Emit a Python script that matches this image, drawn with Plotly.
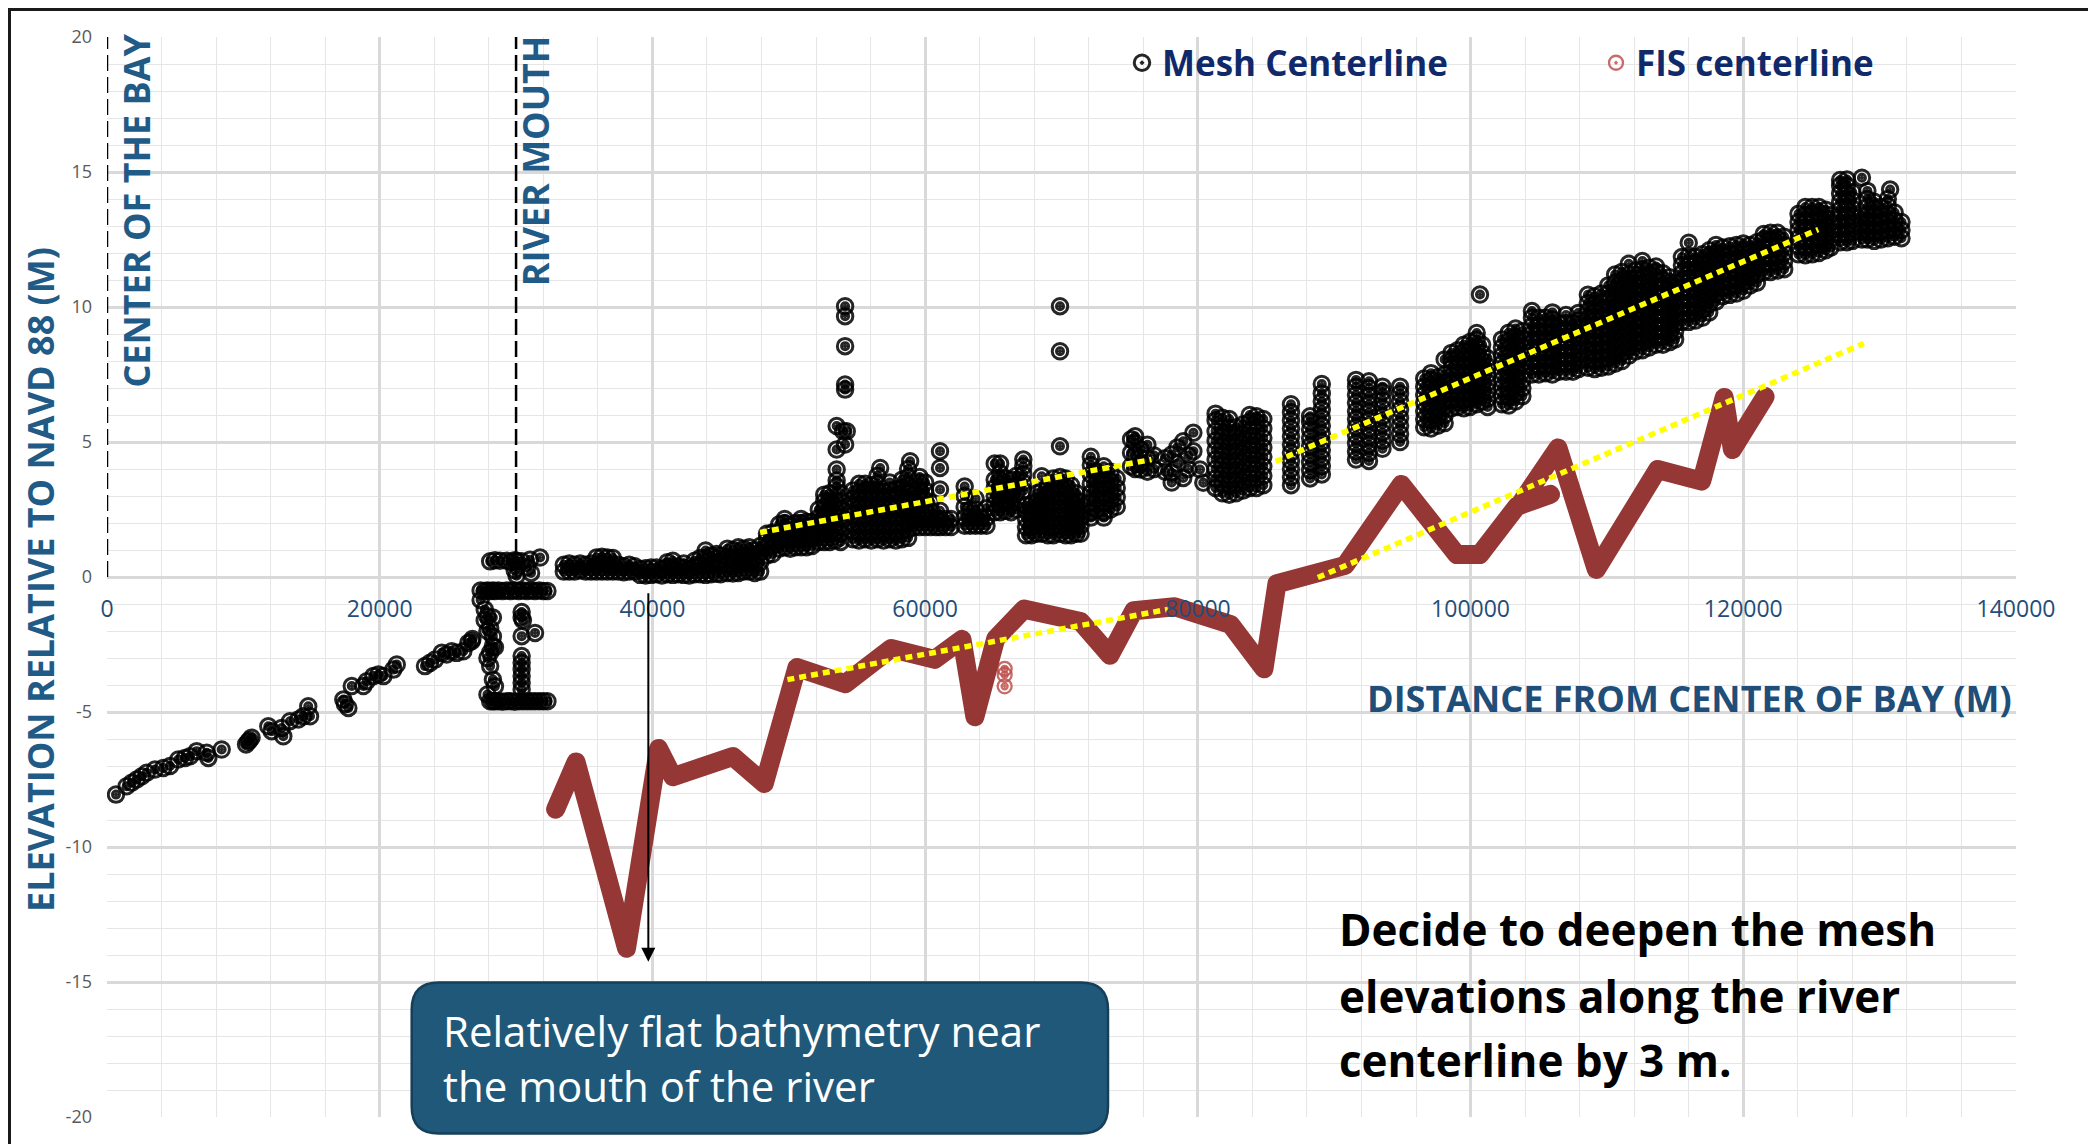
import plotly.graph_objects as go

# ---------------- data ----------------
x_tick_vals = [0, 20000, 40000, 60000, 80000, 100000, 120000, 140000]
x_tick_text = ["0", "20000", "40000", "60000", "80000", "100000", "120000", "140000"]
y_tick_vals = [-20, -15, -10, -5, 0, 5, 10, 15, 20]
y_tick_text = ["-20", "-15", "-10", "-5", "0", "5", "10", "15", "20"]

# bay part of the mesh centerline (individual points)
mesh_bay_x = [660, 1440, 1810, 2180, 2550, 2910, 3520, 4130, 4620, 5230, 5720, 6090, 6580, 7310, 7430,
              8410, 10200, 10350, 10450, 10600, 11830, 12080, 12810, 12930, 13420, 14030, 14400, 14760,
              14890, 17330, 17450, 17700, 17950, 18800, 19050, 19530, 19900, 20270, 21000, 21250, 23320,
              23690, 24060, 24550, 24910, 25280, 25650, 26130, 26500, 26740, 26800]
mesh_bay_y = [-8.06, -7.75, -7.62, -7.5, -7.38, -7.25, -7.13, -7.07, -7.0, -6.76, -6.70, -6.64, -6.45, -6.51,
              -6.70, -6.39, -6.2, -6.1, -6.05, -5.95, -5.53, -5.71, -5.59, -5.9, -5.34, -5.28, -5.16, -4.79,
              -5.16, -4.54, -4.7, -4.85, -4.04, -4.04, -3.86, -3.67, -3.61, -3.67, -3.43, -3.24, -3.30, -3.18,
              -3.06, -2.81, -2.87, -2.75, -2.81, -2.75, -2.44, -2.38, -2.3]

# river part of the mesh centerline: (distance, [elevations at that distance])
mesh_cols = [
    (27400, [-0.5, -0.85]),
    (27700, [-0.52, -1.2, -1.6]),
    (27900, [-0.5, -1.45, -2.0, -3.0, -4.35]),
    (28100, [0.58, -0.52, -1.9, -2.8, -3.3, -4.6]),
    (28300, [-0.5, -1.5, -2.2, -2.56, -3.8, -4.6]),
    (28450, [0.62, -0.52, -2.6, -4.05, -4.6]),
    (28700, [-0.5, -4.6]),
    (28820, [0.6]),
    (29000, [-0.52, -4.62]),
    (29310, [0.6, -0.5, -4.6]),
    (29600, [0.56, -0.52, -4.6]),
    (29900, [0.62, 0.25, -0.5, -4.62]),
    (30040, [0.6, 0.05]),
    (30200, [-0.52, -4.6]),
    (30410, [0.58, -1.3, -1.5, -2.19, -2.93, -3.18, -3.42, -3.67, -3.92, -4.17]),
    (30500, [-0.5, -1.6, -4.6]),
    (30800, [0.35, -0.52, -4.6]),
    (31020, [0.64]),
    (31100, [0.15, -0.5, -4.6]),
    (31390, [-2.07, -0.52, -4.6]),
    (31700, [-0.5, -4.6]),
    (31760, [0.72]),
    (32000, [-0.52, -4.6]),
    (32300, [-0.52, -4.6]),
    (33500, [0.2, 0.45]),
    (33900, [0.2, 0.5]),
    (34300, [0.2, 0.45]),
    (34700, [0.25, 0.5]),
    (35100, [0.2, 0.45]),
    (35500, [0.2, 0.5]),
    (35900, [0.2, 0.45, 0.72]),
    (36300, [0.2, 0.5, 0.75]),
    (36700, [0.2, 0.45, 0.72]),
    (37100, [0.2, 0.45, 0.7]),
    (37500, [0.2, 0.45]),
    (37900, [0.18, 0.4]),
    (38300, [0.2, 0.45]),
    (38700, [0.2, 0.4]),
    (39100, [0.08, 0.3]),
    (39500, [0.06, 0.32]),
    (39900, [0.08, 0.35]),
    (40300, [0.1, 0.35]),
    (40700, [0.06, 0.3]),
    (41100, [0.1, 0.38, 0.55]),
    (41500, [0.08, 0.35, 0.6]),
    (41900, [0.1, 0.38]),
    (42300, [0.08, 0.35, 0.5]),
    (42700, [0.06, 0.3]),
    (43100, [0.1, 0.38, 0.6]),
    (43500, [0.1, 0.4, 0.7]),
    (43900, [0.08, 0.4, 0.7, 0.98]),
    (44300, [0.1, 0.45, 0.8]),
    (44700, [0.12, 0.5, 0.85]),
    (45000, [0.1, 0.45, 0.8]),
    (45500, [0.15, 0.45, 0.75, 1.05]),
    (45900, [0.13, 0.4, 0.7, 1.0]),
    (46300, [0.15, 0.45, 0.75, 1.1]),
    (46700, [0.2, 0.5, 0.8, 1.05]),
    (47100, [0.2, 0.5, 0.8, 1.1]),
    (47500, [0.15, 0.45, 0.75, 1.0]),
    (47900, [0.2, 0.55, 0.9, 1.15]),
    (48400, [0.8, 1.1, 1.4, 1.6]),
    (48800, [0.85, 1.15, 1.45, 1.65]),
    (49300, [1.05, 1.35, 1.65, 1.95]),
    (49700, [1.1, 1.4, 1.7, 2.0, 2.15]),
    (50100, [1.05, 1.35, 1.65, 1.9]),
    (50500, [1.1, 1.4, 1.7, 2.0]),
    (50900, [1.1, 1.4, 1.7, 2.0, 2.15]),
    (51300, [1.1, 1.4, 1.7, 2.05]),
    (51700, [1.15, 1.45, 1.75, 2.05]),
    (52200, [1.3, 1.6, 1.9, 2.2, 2.5]),
    (52600, [1.3, 1.6, 1.9, 2.2, 2.5, 2.8, 3.05]),
    (53000, [1.3, 1.6, 1.9, 2.2, 2.5, 2.8, 3.1]),
    (53400, [1.35, 1.65, 1.95, 2.25, 2.55, 2.85]),
    (53510, [3.36, 3.57, 3.98, 4.72, 5.59]),
    (53800, [1.3, 1.6, 1.9, 2.2, 2.5, 2.8, 3.1]),
    (53990, [5.4]),
    (54130, [4.91, 6.94, 7.13, 8.55, 9.66, 10.03]),
    (54250, [5.4]),
    (54700, [1.4, 1.7, 2.0, 2.3, 2.6, 2.9, 3.2]),
    (55150, [1.35, 1.65, 1.95, 2.25, 2.55, 2.85, 3.15, 3.45]),
    (55600, [1.4, 1.7, 2.0, 2.3, 2.6, 2.9, 3.2, 3.45]),
    (56050, [1.35, 1.65, 1.95, 2.25, 2.55, 2.85, 3.15, 3.4]),
    (56500, [1.4, 1.7, 2.0, 2.3, 2.6, 2.9, 3.2, 3.45, 3.75]),
    (56700, [4.04]),
    (56950, [1.35, 1.65, 1.95, 2.25, 2.55, 2.85, 3.15]),
    (57400, [1.4, 1.7, 2.0, 2.3, 2.6, 2.9, 3.2, 3.5]),
    (57850, [1.35, 1.65, 1.95, 2.25, 2.55, 2.9, 3.25]),
    (58300, [1.4, 1.7, 2.0, 2.3, 2.6, 2.95, 3.3, 3.6]),
    (58750, [1.45, 1.75, 2.05, 2.4, 2.75, 3.1, 3.4, 3.7, 4.0]),
    (58900, [4.29]),
    (59200, [1.85, 2.15, 2.45, 2.75, 3.05]),
    (59600, [1.85, 2.15, 2.5, 2.85, 3.2, 3.5, 3.7]),
    (60000, [1.85, 2.15, 2.5, 2.85, 3.2, 3.5]),
    (60400, [1.85, 2.15, 2.45, 2.75]),
    (60800, [1.85, 2.15]),
    (61090, [1.85, 2.15, 2.45, 3.24, 4.04, 4.66]),
    (61500, [1.85, 2.15]),
    (61900, [1.85, 2.15]),
    (62900, [1.9, 2.2, 2.6, 3.0, 3.35]),
    (63300, [1.9, 2.2, 2.5]),
    (63700, [1.9, 2.2, 2.5, 2.9]),
    (64100, [1.9, 2.2]),
    (64500, [1.9, 2.2, 2.55]),
    (65100, [2.4, 2.7, 3.0, 3.3, 3.6, 4.2]),
    (65500, [2.4, 2.7, 3.0, 3.3, 3.6, 3.85, 4.2]),
    (65900, [2.45, 2.75, 3.05, 3.35, 3.65]),
    (66300, [2.4, 2.7, 3.0, 3.3, 3.6]),
    (66700, [2.5, 2.8, 3.1, 3.4, 3.75]),
    (67200, [3.2, 3.5, 3.8, 4.1, 4.35]),
    (67400, [1.55, 1.85, 2.15, 2.45, 2.65]),
    (67800, [1.55, 1.85, 2.15, 2.45, 2.7]),
    (68200, [1.6, 1.9, 2.2, 2.5, 2.8, 3.1]),
    (68550, [1.6, 1.9, 2.2, 2.5, 2.8, 3.2, 3.73]),
    (69000, [1.55, 1.85, 2.15, 2.45, 2.75, 3.05, 3.35]),
    (69400, [1.55, 1.85, 2.15, 2.45, 2.75, 3.05, 3.35, 3.65]),
    (69890, [1.6, 1.9, 2.2, 2.5, 2.8, 3.1, 3.4, 3.7, 4.84, 8.36, 10.03]),
    (70300, [1.55, 1.85, 2.15, 2.45, 2.75, 3.05, 3.35, 3.65]),
    (70700, [1.55, 1.85, 2.15, 2.45, 2.75, 3.05, 3.4]),
    (71100, [1.6, 1.9, 2.2, 2.5, 2.8, 3.1]),
    (71400, [1.6, 1.9, 2.2, 2.5, 2.8]),
    (72150, [2.2, 2.4, 2.75, 3.1, 3.45, 3.8, 4.15, 4.45]),
    (72600, [2.5, 2.85, 3.2, 3.55, 3.9]),
    (73100, [2.2, 2.4, 2.75, 3.1, 3.45, 3.8, 4.1]),
    (73600, [2.5, 2.85, 3.2, 3.55, 3.9]),
    (74050, [2.6, 2.95, 3.3, 3.65]),
    (75100, [4.1, 4.6, 5.1]),
    (75400, [4.0, 4.5, 4.97, 5.21]),
    (75800, [3.98, 4.2, 4.72]),
    (76300, [3.9, 4.4, 4.9]),
    (76800, [4.0, 4.5]),
    (77600, [3.9, 4.4]),
    (78080, [3.5, 3.86, 4.54]),
    (78500, [4.2, 4.8]),
    (78930, [3.67, 5.03]),
    (79300, [4.0, 4.5]),
    (79670, [4.66, 5.34]),
    (80160, [3.98]),
    (80400, [3.49]),
    (81300, [3.3, 3.65, 4.0, 4.35, 4.7, 5.05, 5.4, 5.8, 6.05]),
    (81800, [3.1, 3.45, 3.8, 4.15, 4.5, 4.85, 5.2, 5.55, 5.9]),
    (82300, [3.05, 3.4, 3.75, 4.1, 4.45, 4.8, 5.15, 5.5, 5.85]),
    (82800, [3.1, 3.45, 3.8, 4.15, 4.5, 4.85, 5.2, 5.55]),
    (83300, [3.2, 3.55, 3.9, 4.25, 4.6, 4.95, 5.3, 5.65]),
    (83800, [3.3, 3.65, 4.0, 4.35, 4.7, 5.05, 5.4, 5.75, 6.0]),
    (84300, [3.3, 3.65, 4.0, 4.35, 4.7, 5.05, 5.4, 5.75, 5.95]),
    (84800, [3.4, 3.75, 4.1, 4.45, 4.8, 5.15, 5.5, 5.85]),
    (86830, [3.4, 3.7, 4.0, 4.3, 4.6, 4.9, 5.2, 5.5, 5.8, 6.1, 6.4]),
    (88230, [3.65, 3.95, 4.25, 4.55, 4.85, 5.15, 5.45, 5.75, 5.95]),
    (89090, [3.8, 4.1, 4.4, 4.7, 5.0, 5.3, 5.6, 5.9, 6.2, 6.5, 6.8, 7.15]),
    (91600, [4.35, 4.65, 4.95, 5.25, 5.55, 5.85, 6.15, 6.45, 6.75, 7.05, 7.3]),
    (92550, [4.3, 4.6, 4.9, 5.2, 5.5, 5.8, 6.1, 6.4, 6.7, 7.0, 7.25]),
    (93540, [4.75, 5.05, 5.35, 5.65, 5.95, 6.25, 6.55, 6.85, 7.05]),
    (94830, [5.0, 5.3, 5.6, 5.9, 6.2, 6.5, 6.8, 7.05]),
    (96600, [5.55, 5.85, 6.15, 6.45, 6.75, 7.05, 7.35]),
    (97100, [5.5, 5.8, 6.1, 6.4, 6.7, 7.0, 7.3, 7.55]),
    (97600, [5.6, 5.9, 6.2, 6.5, 6.8, 7.1, 7.4]),
    (98100, [5.7, 6.0, 6.3, 6.6, 6.9, 7.2, 7.5, 8.06]),
    (98600, [6.25, 6.55, 6.85, 7.15, 7.45, 7.75, 8.05, 8.3]),
    (99050, [6.3, 6.6, 6.9, 7.2, 7.5, 7.8, 8.1, 8.4]),
    (99500, [6.25, 6.55, 6.85, 7.15, 7.45, 7.75, 8.05, 8.35, 8.6]),
    (99950, [6.3, 6.6, 6.9, 7.2, 7.5, 7.8, 8.1, 8.4, 8.7]),
    (100450, [6.4, 6.7, 7.0, 7.3, 7.6, 7.9, 8.2, 8.5, 8.8, 9.04]),
    (100690, [10.46]),
    (100850, [6.5, 6.8, 7.1, 7.4, 7.7, 8.0, 8.3, 8.6]),
    (101250, [6.3, 6.6, 6.9, 7.2, 7.5, 7.8, 8.1]),
    (102300, [6.4, 6.7, 7.0, 7.3, 7.6, 7.9, 8.2, 8.5, 8.8]),
    (102800, [6.35, 6.65, 6.95, 7.25, 7.55, 7.85, 8.15, 8.45, 8.75, 9.05]),
    (103300, [6.5, 6.8, 7.1, 7.4, 7.7, 8.0, 8.3, 8.6, 8.9, 9.2]),
    (103800, [6.7, 7.0, 7.3, 7.6, 7.9, 8.2, 8.5, 8.8, 9.1]),
    (104500, [7.5, 7.8, 8.1, 8.4, 8.7, 9.0, 9.3, 9.6, 9.85]),
    (105000, [7.5, 7.8, 8.1, 8.4, 8.7, 9.0, 9.3, 9.6]),
    (105500, [7.55, 7.85, 8.15, 8.45, 8.75, 9.05, 9.35, 9.6]),
    (106000, [7.5, 7.8, 8.1, 8.4, 8.7, 9.0, 9.3, 9.55, 9.8]),
    (106500, [7.6, 7.9, 8.2, 8.5, 8.8, 9.1, 9.4]),
    (107000, [7.6, 7.9, 8.2, 8.5, 8.8, 9.1, 9.4, 9.7]),
    (107500, [7.6, 7.9, 8.2, 8.5, 8.8, 9.1, 9.4]),
    (107900, [7.7, 8.0, 8.3, 8.6, 8.9, 9.2, 9.5, 9.78]),
    (108600, [7.75, 8.05, 8.35, 8.65, 8.95, 9.25, 9.55, 9.85, 10.15, 10.45]),
    (109100, [7.7, 8.0, 8.3, 8.6, 8.9, 9.2, 9.5, 9.8, 10.1, 10.4]),
    (109600, [7.75, 8.05, 8.35, 8.65, 8.95, 9.25, 9.55, 9.85, 10.15, 10.5]),
    (110100, [7.8, 8.1, 8.4, 8.7, 9.0, 9.3, 9.6, 9.9, 10.2, 10.5, 10.8]),
    (110600, [7.9, 8.2, 8.5, 8.8, 9.1, 9.4, 9.7, 10.0, 10.3, 10.6, 10.9, 11.2]),
    (111100, [8.0, 8.3, 8.6, 8.9, 9.2, 9.5, 9.8, 10.1, 10.4, 10.7, 11.0, 11.3]),
    (111600, [8.2, 8.5, 8.8, 9.1, 9.4, 9.7, 10.0, 10.3, 10.6, 10.9, 11.2, 11.6]),
    (112100, [8.35, 8.65, 8.95, 9.25, 9.55, 9.85, 10.15, 10.45, 10.75, 11.05, 11.35]),
    (112600, [8.4, 8.7, 9.0, 9.3, 9.6, 9.9, 10.2, 10.5, 10.8, 11.1, 11.4, 11.7]),
    (113100, [8.5, 8.8, 9.1, 9.4, 9.7, 10.0, 10.3, 10.6, 10.9, 11.2, 11.45]),
    (113600, [8.6, 8.9, 9.2, 9.5, 9.8, 10.1, 10.4, 10.7, 11.0, 11.3, 11.5]),
    (114100, [8.6, 8.9, 9.2, 9.5, 9.8, 10.1, 10.4, 10.7, 11.0, 11.25]),
    (114600, [8.7, 9.0, 9.3, 9.6, 9.9, 10.2, 10.5, 10.8, 11.1]),
    (115000, [8.8, 9.1, 9.4, 9.7, 10.0, 10.3, 10.6, 10.9]),
    (115500, [9.45, 9.75, 10.05, 10.35, 10.65, 10.95, 11.25, 11.55, 11.85]),
    (116000, [9.45, 9.75, 10.05, 10.35, 10.65, 10.95, 11.25, 11.55, 11.9, 12.38]),
    (116500, [9.5, 9.8, 10.1, 10.4, 10.7, 11.0, 11.3, 11.6, 11.85]),
    (117000, [9.6, 9.9, 10.2, 10.5, 10.8, 11.1, 11.4, 11.7, 11.95]),
    (117500, [9.8, 10.1, 10.4, 10.7, 11.0, 11.3, 11.6, 11.9, 12.1]),
    (118000, [10.2, 10.5, 10.8, 11.1, 11.4, 11.7, 12.0, 12.3]),
    (118500, [10.4, 10.7, 11.0, 11.3, 11.6, 11.9, 12.2]),
    (119000, [10.45, 10.75, 11.05, 11.35, 11.65, 11.95, 12.25]),
    (119500, [10.5, 10.8, 11.1, 11.4, 11.7, 12.0, 12.3]),
    (120000, [10.6, 10.9, 11.2, 11.5, 11.8, 12.1, 12.35]),
    (120500, [10.8, 11.1, 11.4, 11.7, 12.0, 12.3]),
    (121000, [10.9, 11.2, 11.5, 11.8, 12.1, 12.4]),
    (121500, [11.3, 11.6, 11.9, 12.2, 12.5, 12.7]),
    (122000, [11.3, 11.6, 11.9, 12.2, 12.5, 12.75]),
    (122500, [11.35, 11.65, 11.95, 12.25, 12.55, 12.75]),
    (123000, [11.4, 11.7, 12.0, 12.3, 12.6]),
    (124050, [11.95, 12.25, 12.55, 12.85, 13.15, 13.45]),
    (124550, [11.92, 12.22, 12.52, 12.82, 13.12, 13.42, 13.7]),
    (125050, [11.95, 12.25, 12.55, 12.85, 13.15, 13.45, 13.7]),
    (125550, [12.0, 12.3, 12.6, 12.9, 13.2, 13.5, 13.7]),
    (126050, [12.1, 12.4, 12.7, 13.0, 13.3, 13.6]),
    (126400, [12.2, 12.5, 12.8, 13.1, 13.4]),
    (127100, [12.4, 12.7, 13.0, 13.3, 13.6, 13.9, 14.2, 14.5, 14.7]),
    (127600, [12.4, 12.7, 13.0, 13.3, 13.6, 13.9, 14.2, 14.5, 14.72]),
    (128000, [12.45, 12.75, 13.05, 13.35, 13.65, 13.95, 14.25]),
    (128700, [12.5, 12.8, 13.1, 13.4, 14.79]),
    (129100, [12.5, 12.8, 13.1, 13.4, 13.7, 14.0, 14.3]),
    (129600, [12.45, 12.75, 13.05, 13.35, 13.65, 13.9]),
    (130100, [12.5, 12.8, 13.1, 13.4, 13.7]),
    (130600, [12.55, 12.85, 13.15, 13.45, 13.75, 14.0]),
    (130770, [14.35]),
    (131100, [12.6, 12.9, 13.2, 13.5]),
    (131600, [12.55, 12.85, 13.15]),
]

# FIS centerline (thick line) and the FIS points left visible
fis_x = [32900, 34400, 38100, 40450, 41500, 45900, 48200, 50600, 54150, 57500, 60700, 62700, 63650,
         65180, 67250, 71400, 73550, 75300, 78300, 82400, 84850, 85800, 90800, 94920, 98990, 100670,
         103400, 105860, 103700, 106410, 109220, 113720, 116950, 118600, 119200, 121600]
fis_y = [-8.6, -6.85, -13.75, -6.35, -7.4, -6.65, -7.65, -3.35, -3.95, -2.65, -3.05, -2.31, -5.18,
         -2.28, -1.19, -1.65, -2.9, -1.25, -1.1, -1.76, -3.4, -0.25, 0.43, 3.43, 0.83, 0.83,
         2.62, 3.06, 2.75, 4.78, 0.28, 3.98, 3.55, 6.65, 4.72, 6.68]
fis_pt_x = [65830, 65830, 65830]
fis_pt_y = [-3.4, -3.62, -4.05]

# linear trend lines (end points)
mesh_trend1_x = [47900, 76600]
mesh_trend1_y = [1.65, 4.35]
mesh_trend2_x = [85700, 125500]
mesh_trend2_y = [4.28, 12.87]
fis_trend1_x = [49900, 77800]
fis_trend1_y = [-3.8, -1.2]
fis_trend2_x = [88800, 128850]
fis_trend2_y = [-0.02, 8.65]

# reference vertical lines
ref_x = [0, 30000]
ref_y = [0, 20]
ref_labels = ["CENTER OF THE BAY", "RIVER MOUTH"]
ref_label_pos = [(2200, 13.57), (31390, 15.4)]

arrow_x = 39700
arrow_y_from = -0.55
arrow_y_to = -14.25

# ---------------- build ----------------
mesh_x = list(mesh_bay_x)
mesh_y = list(mesh_bay_y)
for cx, ys in mesh_cols:
    for yy in ys:
        mesh_x.append(cx)
        mesh_y.append(yy)

FONT = "Open Sans, Lato, DejaVu Sans, sans-serif"
BLUE = "#1f5b86"
OFF = 8                      # page body margin
W, H = 2088, 1136
L, R, T, B = 99, 80, 29, 27
PW, PH = W - L - R, H - T - B


def px(xpix):                # screen pixel -> paper fraction
    return (xpix - OFF - L) / PW


def py(ypix):
    return (H - B - (ypix - OFF)) / PH


fig = go.Figure()

for rx in ref_x:
    fig.add_trace(go.Scatter(x=[rx, rx], y=ref_y, mode="lines", showlegend=False, hoverinfo="skip",
                             line=dict(color="black", width=2.5, dash="16px,6px")))

ring = "rgba(0,0,0,0.85)"
fig.add_trace(go.Scatter(x=mesh_x, y=mesh_y, mode="markers", name="Mesh Centerline",
                         marker=dict(symbol="circle-open-dot", size=15.5, color=ring,
                                     line=dict(color=ring, width=3))))
fig.add_trace(go.Scatter(x=mesh_x, y=mesh_y, mode="markers", showlegend=False, hoverinfo="skip",
                         marker=dict(symbol="circle-open", size=7, color=ring,
                                     line=dict(color=ring, width=3))))

red_ring = "rgba(192,80,77,0.85)"
fig.add_trace(go.Scatter(x=fis_pt_x, y=fis_pt_y, mode="markers", name="FIS centerline",
                         marker=dict(symbol="circle-open-dot", size=14, color=red_ring,
                                     line=dict(color=red_ring, width=2.3))))
fig.add_trace(go.Scatter(x=fis_pt_x, y=fis_pt_y, mode="markers", showlegend=False, hoverinfo="skip",
                         marker=dict(symbol="circle-open", size=6, color=red_ring,
                                     line=dict(color=red_ring, width=2.3))))
fig.add_trace(go.Scatter(x=fis_x, y=fis_y, mode="lines", showlegend=False, hoverinfo="skip",
                         line=dict(color="#953735", width=19)))

for tx, ty in [(mesh_trend1_x, mesh_trend1_y), (mesh_trend2_x, mesh_trend2_y),
               (fis_trend1_x, fis_trend1_y), (fis_trend2_x, fis_trend2_y)]:
    fig.add_trace(go.Scatter(x=tx, y=ty, mode="lines", showlegend=False, hoverinfo="skip",
                             line=dict(color="#ffff00", width=5.5, dash="7px,5px")))

annotations = [
    dict(text="ELEVATION RELATIVE TO NAVD 88 (M)", xref="paper", yref="paper", x=px(40), y=py(580),
         xanchor="center", yanchor="middle", textangle=-90, showarrow=False,
         font=dict(family=FONT, size=36, color=BLUE, weight="bold")),
    dict(text="DISTANCE FROM CENTER OF BAY (M)", xref="x", yref="y", x=139860, y=-4.5,
         xanchor="right", yanchor="middle", showarrow=False,
         font=dict(family=FONT, size=36, color="#1f4e79", weight="bold")),
    dict(text="Relatively flat bathymetry near<br>the mouth of the river", xref="paper", yref="paper",
         x=px(441), y=py(1058), xanchor="left", yanchor="middle", align="left", showarrow=False,
         font=dict(family=FONT, size=42, color="white")),
    dict(text="", xref="x", yref="y", x=arrow_x, y=arrow_y_to, axref="x", ayref="y", ax=arrow_x,
         ay=arrow_y_from, showarrow=True, arrowhead=2, arrowsize=1.4, arrowwidth=2, arrowcolor="black"),
]
for lab, (lx, ly) in zip(ref_labels, ref_label_pos):
    annotations.append(dict(text=lab, xref="x", yref="y", x=lx, y=ly, textangle=-90, showarrow=False,
                            xanchor="center", yanchor="middle",
                            font=dict(family=FONT, size=36, color=BLUE, weight="bold")))
for line_txt, ypix in zip(["Decide to deepen the mesh", "elevations along the river", "centerline by 3 m."],
                          [929, 996, 1060]):
    annotations.append(dict(text=line_txt, xref="paper", yref="paper", x=px(1337), y=py(ypix),
                            xanchor="left", yanchor="middle", showarrow=False,
                            font=dict(family=FONT, size=44, color="black", weight="bold")))

# rounded call-out box (pixel geometry converted to paper units)
bx0, bx1, by0, by1 = px(411.7), px(1108), py(1133.5), py(982.5)
rx, ry = 27 / PW, 27 / PH
box_path = (f"M{bx0+rx},{by1} L{bx1-rx},{by1} Q{bx1},{by1} {bx1},{by1-ry} L{bx1},{by0+ry} "
            f"Q{bx1},{by0} {bx1-rx},{by0} L{bx0+rx},{by0} Q{bx0},{by0} {bx0},{by0+ry} "
            f"L{bx0},{by1-ry} Q{bx0},{by1} {bx0+rx},{by1} Z")

shapes = [
    dict(type="path", path=box_path, xref="paper", yref="paper", fillcolor="#1f5878",
         line=dict(color="#163f5a", width=2.5), layer="above"),
    dict(type="rect", xref="paper", yref="paper", x0=px(9.5), x1=px(2091), y0=py(1150), y1=py(9.5),
         line=dict(color="#1a1a1a", width=3), fillcolor="rgba(0,0,0,0)", layer="above"),
]

fig.update_layout(
    width=W, height=H, autosize=False,
    margin=dict(l=L, r=R, t=T, b=B, pad=0),
    paper_bgcolor="white", plot_bgcolor="white",
    font=dict(family=FONT),
    showlegend=True,
    legend=dict(orientation="h", x=px(1122), y=py(63), xanchor="left", yanchor="middle",
                bgcolor="rgba(0,0,0,0)", entrywidth=429, entrywidthmode="pixels",
                font=dict(family=FONT, size=35, color="#10296b", weight="bold")),
    xaxis=dict(range=[0, 140000], anchor="free", position=0.5, tickmode="array",
               tickvals=x_tick_vals, ticktext=x_tick_text, showgrid=True, gridcolor="#d9d9d9",
               gridwidth=2.5, zeroline=False, showline=False, ticks="", automargin=False,
               ticklabelstandoff=16,
               tickfont=dict(family=FONT, size=23, color="#1f4e79"),
               minor=dict(tick0=0, dtick=4000, showgrid=True, gridcolor="#e6e6e6", gridwidth=1.3)),
    yaxis=dict(range=[-20, 20], tickmode="array", tickvals=y_tick_vals, ticktext=y_tick_text,
               showgrid=True, gridcolor="#d9d9d9", gridwidth=2.5, zeroline=False, showline=False,
               ticks="", automargin=False, ticklabelstandoff=14,
               tickfont=dict(family=FONT, size=18, color="#595959"),
               minor=dict(tick0=0, dtick=1, showgrid=True, gridcolor="#e6e6e6", gridwidth=1.3)),
    annotations=annotations,
    shapes=shapes,
)

post = """
document.querySelectorAll('path.js-line').forEach(function(p){
  if (p.style.strokeWidth === '19px') { p.style.strokeLinejoin = 'round'; p.style.strokeLinecap = 'round'; }
});
"""
fig.write_html("out.html", post_script=post)
